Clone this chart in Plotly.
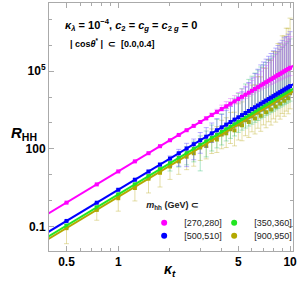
import plotly.graph_objects as go

# ---------------- data ----------------
KT = [0.5, 0.75, 1.0, 1.25, 1.5, 1.75, 2.0, 2.25, 2.5, 2.75,
      3.0, 3.25, 3.5, 3.75, 4.0, 4.25, 4.5, 4.75, 5.0, 5.25,
      5.5, 5.75, 6.0, 6.25, 6.5, 6.75, 7.0, 7.25, 7.5, 7.75,
      8.0, 8.25, 8.5, 8.75, 9.0, 9.25, 9.5, 9.75, 10.0]

R_270 = [0.844, 4.27, 13.5, 33.0, 68.3, 127, 216, 346, 527, 772,
         1094, 1506, 2026, 2670, 3456, 4404, 5536, 6872, 8438, 10256,
         12353, 14756, 17496, 20599, 24098, 28025, 32414, 37298, 42715, 48701,
         55296, 62539, 70471, 79135, 88574, 98833, 109958, 121998, 135000]
R_500 = [0.166, 0.838, 2.65, 6.47, 13.4, 24.9, 42.4, 67.9, 103.5, 151.6,
         214.7, 295.7, 397.7, 524.0, 678.4, 864.6, 1086.7, 1349.0, 1656.3, 2013.2,
         2424.9, 2896.6, 3434.4, 4043.6, 4730.4, 5501.2, 6362.7, 7321.5, 8384.8, 9559.9,
         10854, 12276, 13833, 15534, 17387, 19400, 21584, 23948, 26500]
R_350 = [0.109, 0.554, 1.75, 4.27, 8.86, 16.4, 28.0, 44.9, 68.4, 100.1,
         141.8, 195.2, 262.6, 346.1, 448.0, 570.9, 717.6, 890.9, 1093.8, 1329.5,
         1601.4, 1912.9, 2268.0, 2670.3, 3123.9, 3632.9, 4201.8, 4834.9, 5537.1, 6313.1,
         7168.0, 8106.9, 9135.1, 10258, 11482, 12812, 14254, 15815, 17500]
R_900 = [0.0875, 0.443, 1.25, 3.1, 7.09, 12.0, 21.0, 33.0, 50.0, 68.0,
         113.4, 130.0, 210.1, 230.0, 358.4, 400.0, 574.1, 520.0, 875.0, 820.0,
         1281.1, 1100.0, 1814.4, 1500.0, 2499.1, 1900.0, 3361.4, 2600.0, 4429.7, 3300.0,
         5734.4, 4300.0, 7308.1, 5600.0, 9185.4, 7200.0, 11403, 9000.0, 14000]

# error bars, in decades above / below each point
UP_270 = [0, 0, 0, 0, 0, 0, 0, 0, 0.02, 0.03,
          0.05, 0.06, 0.08, 0.1, 0.15, 0.18, 0.2, 0.22, 0.25, 0.3,
          0.33, 0.36, 0.4, 0.45, 0.5, 0.55, 0.6, 0.65, 0.7, 0.75,
          0.8, 0.85, 0.9, 0.95, 1.0, 1.05, 1.1, 1.15, 1.2]
DN_270 = [0, 0, 0, 0, 0, 0, 0, 0, 0.02, 0.03,
          0.04, 0.05, 0.06, 0.07, 0.08, 0.09, 0.1, 0.1, 0.12, 0.12,
          0.14, 0.14, 0.15, 0.15, 0.16, 0.17, 0.18, 0.19, 0.2, 0.2,
          0.21, 0.22, 0.23, 0.24, 0.25, 0.26, 0.27, 0.28, 0.3]
UP_500 = [0, 0, 0.03, 0.03, 0.05, 0.05, 0.1, 0.15, 0.2, 0.2,
          0.3, 0.35, 0.4, 0.45, 0.5, 0.55, 0.6, 0.7, 0.8, 0.9,
          1.0, 1.1, 1.2, 1.3, 1.4, 1.5, 1.55, 1.6, 1.65, 1.7,
          1.75, 1.8, 1.85, 1.9, 1.95, 2.0, 2.0, 2.05, 2.1]
DN_500 = [0, 0, 0.03, 0.05, 0.05, 0.08, 0.3, 0.5, 0.7, 0.6,
          0.5, 0.4, 0.35, 0.3, 0.3, 0.3, 0.3, 0.3, 0.3, 0.3,
          0.3, 0.3, 0.3, 0.3, 0.3, 0.3, 0.3, 0.3, 0.3, 0.3,
          0.3, 0.3, 0.3, 0.3, 0.3, 0.3, 0.3, 0.3, 0.3]
UP_350 = [0.05, 0.05, 0.05, 0.05, 0.05, 0.05, 0.15, 0.2, 0.25, 0.3,
          0.35, 0.4, 0.5, 0.6, 0.7, 0.8, 0.9, 1.0, 1.1, 1.2,
          1.3, 1.4, 1.45, 1.5, 1.55, 1.6, 1.62, 1.65, 1.68, 1.7,
          1.73, 1.76, 1.8, 1.83, 1.86, 1.9, 1.93, 1.96, 2.0]
DN_350 = [0.1, 0.1, 0.1, 0.1, 0.1, 0.1, 0.3, 0.35, 0.45, 0.5,
          1.0, 0.6, 0.5, 0.5, 0.5, 0.45, 0.45, 0.45, 0.4, 0.4,
          0.4, 0.4, 0.4, 0.4, 0.4, 0.4, 0.4, 0.4, 0.4, 0.4,
          0.4, 0.4, 0.4, 0.4, 0.4, 0.4, 0.4, 0.4, 0.4]
UP_900 = [0.15, 0.15, 0.15, 0.15, 0.15, 0.2, 0.2, 0.2, 0.25, 0.3,
          0.35, 0.4, 0.45, 0.5, 0.55, 0.6, 0.65, 0.7, 0.8, 0.9,
          1.0, 1.1, 1.2, 1.3, 1.4, 1.5, 1.6, 1.7, 1.8, 1.9,
          2.0, 2.1, 2.2, 2.3, 2.4, 2.5, 2.6, 2.7, 2.9]
DN_900 = [0.6, 0.4, 0.5, 0.5, 0.55, 0.55, 0.5, 0.5, 0.5, 0.5,
          0.5, 0.5, 0.5, 0.5, 0.55, 0.55, 0.55, 0.6, 0.6, 0.6,
          0.6, 0.6, 0.6, 0.6, 0.6, 0.6, 0.6, 0.6, 0.6, 0.6,
          0.6, 0.6, 0.6, 0.6, 0.6, 0.6, 0.6, 0.6, 0.6]

# fitted power-law lines (end points)
KT_FIT = [0.38, 10.5]
FIT_270 = [0.2815, 164100]
FIT_500 = [0.05526, 32211]
FIT_350 = [0.0365, 21271]
FIT_900 = [0.0292, 17017]

LABELS = ["[270,280]", "[350,360]", "[500,510]", "[900,950]"]
COLORS = ["#ff00ff", "#22e622", "#0000ff", "#b3a800"]
ERRCOL = ["rgba(220,90,255,0.42)", "rgba(40,190,110,0.38)",
          "rgba(90,70,255,0.42)", "rgba(190,175,40,0.4)"]

series = [(R_270, UP_270, DN_270, FIT_270),
          (R_350, UP_350, DN_350, FIT_350),
          (R_500, UP_500, DN_500, FIT_500),
          (R_900, UP_900, DN_900, FIT_900)]

fig = go.Figure()

draw_order = [3, 1, 2, 0]
for k in draw_order:
    r, up, dn, fit = series[k]
    eplus = [v * (10 ** u - 1) for v, u in zip(r, up)]
    eminus = [v * (1 - 10 ** (-d)) for v, d in zip(r, dn)]
    fig.add_trace(go.Scatter(
        x=KT, y=r, mode="markers",
        marker=dict(symbol="square", size=4, color=COLORS[k]),
        error_y=dict(type="data", symmetric=False, array=eplus, arrayminus=eminus,
                     color=ERRCOL[k], thickness=1, width=2.5),
        showlegend=False, hoverinfo="skip"))
for k in draw_order:
    r, up, dn, fit = series[k]
    fig.add_trace(go.Scatter(
        x=KT_FIT, y=fit, mode="lines",
        line=dict(color=COLORS[k], width=2),
        showlegend=False, hoverinfo="skip"))

# legend entries (two rows, two columns)
for k in range(4):
    fig.add_trace(go.Scatter(
        x=[None], y=[None], mode="markers", name=LABELS[k],
        marker=dict(symbol="circle", size=6, color=COLORS[k]),
        legendwidth=25 if k in (0, 2) else 45,
        legend="legend" if k in (0, 1) else "legend2"))

FONT = "Liberation Sans"
legend_common = dict(orientation="h", bgcolor="rgba(0,0,0,0)", borderwidth=0,
                     font=dict(family=FONT, size=9, color="#222"),
                     entrywidthmode="pixels",
                     itemwidth=30, tracegroupgap=0,
                     xanchor="left", yanchor="top")

fig.update_layout(
    width=307, height=296,
    margin=dict(l=49, r=8, t=3, b=45),
    paper_bgcolor="white", plot_bgcolor="white",
    font=dict(family=FONT, size=12, color="black"),
    legend=dict(**legend_common, x=0.39, y=0.22,
                title=dict(text="<b><i>m</i><sub>hh</sub> (GeV) ⊂</b>", side="top",
                           font=dict(family=FONT, size=9, color="#222"))),
    legend2=dict(**legend_common, x=0.39, y=0.12),
    showlegend=True,
)

axis_common = dict(showline=True, linecolor="#aaaaaa", linewidth=1, mirror="ticks",
                   ticks="inside", ticklen=5, tickcolor="#aaaaaa", showgrid=False,
                   zeroline=False,
                   tickfont=dict(family=FONT, size=12, color="black"))

fig.update_xaxes(type="log", range=[-0.403, 1.017],
                 tickvals=[0.5, 1, 5, 10], ticktext=["<b>0.5</b>", "<b>1</b>", "<b>5</b>", "<b>10</b>"],
                 minor=dict(ticks="inside", ticklen=3, tickcolor="#aaaaaa",
                            tickvals=[0.4, 0.6, 0.7, 0.8, 0.9, 2, 3, 4, 6, 7, 8, 9]),
                 **axis_common)
fig.update_yaxes(type="log", range=[-1.94, 7.63],
                 tickvals=[0.1, 100, 1e5], ticktext=["<b>0.1</b>", "<b>100</b>", "<b>10<sup>5</sup></b>"],
                 minor=dict(ticks="inside", ticklen=3, tickcolor="#aaaaaa",
                            tickvals=[0.01, 1, 10, 1000, 1e4, 1e6, 1e7]),
                 **axis_common)

annotations = [
    dict(x=8, y=133,
         text="<b><i>R</i><sub>HH</sub></b>", showarrow=False,
         font=dict(family=FONT, size=15), xanchor="left", yanchor="middle"),
    dict(x=173, y=270, text="<b><i>κ</i><sub><i>t</i></sub></b>", showarrow=False,
         font=dict(family=FONT, size=14), xanchor="center", yanchor="middle"),
    dict(x=63, y=25,
         text="<b><i>κ</i><sub><i>λ</i></sub> = 10<sup>−4</sup>, <i>c</i><sub>2</sub> = <i>c</i><sub><i>g</i></sub> = <i>c</i><sub>2 <i>g</i></sub> = 0</b>",
         showarrow=False, font=dict(family=FONT, size=11), xanchor="left", yanchor="middle"),
    dict(x=68, y=43, text="<b>| cos<i>θ</i><sup>*</sup> |  ⊂  [0.0,0.4]</b>",
         showarrow=False, font=dict(family=FONT, size=9), xanchor="left", yanchor="middle"),
]
L, R_, T, B = 49, 299, 3, 251
for a in annotations:
    px, py = a["x"], a["y"]
    a["x"] = (px - L) / (R_ - L)
    a["y"] = (B - py) / (B - T)
    a["xref"] = "paper"
    a["yref"] = "paper"
fig.update_layout(annotations=annotations)

fig.write_html("out.html", config={"displayModeBar": False},
               post_script="document.body.style.margin='0';document.body.style.padding='0';")
